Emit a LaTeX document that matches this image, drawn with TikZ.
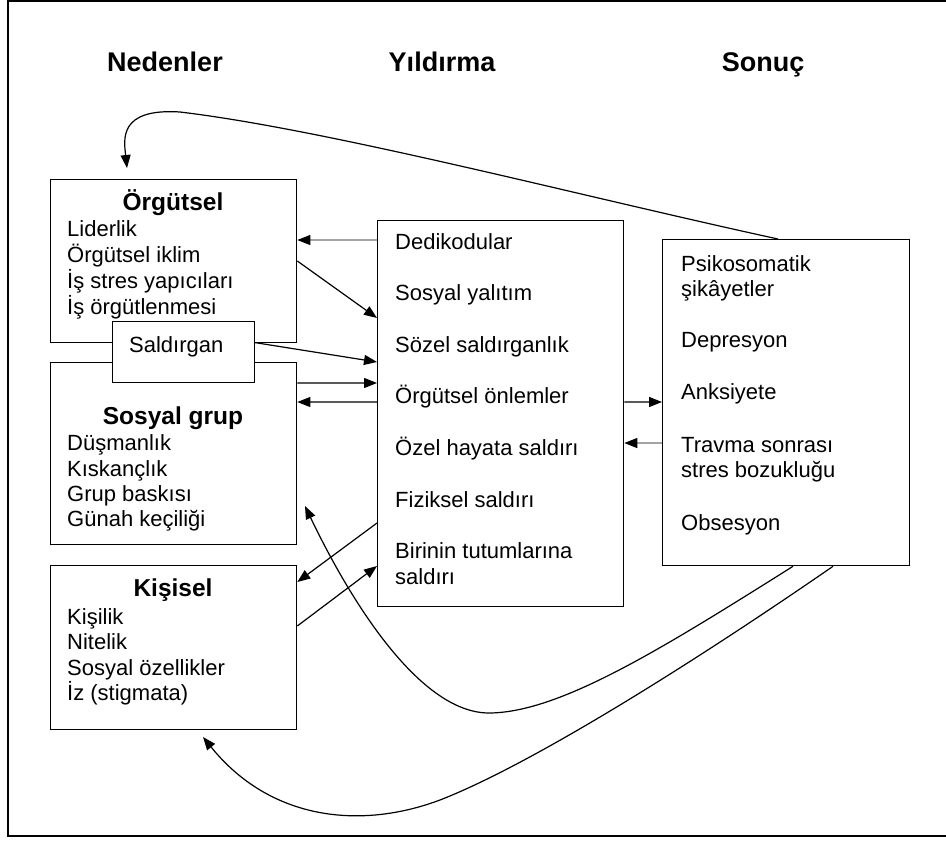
\documentclass[tikz,border=0pt]{standalone}
\usepackage{fontspec}
\setmainfont{Liberation Sans}
\usetikzlibrary{arrows.meta,calc}
\begin{document}
\begin{tikzpicture}[x=1bp,y=-1bp,
  box/.style={draw,line width=1.3bp,rectangle,inner sep=0pt,anchor=north west},
  item/.style={inner sep=0pt,anchor=base west,font=\fontsize{22bp}{26bp}\selectfont},
  title/.style={inner sep=0pt,anchor=base,font=\fontsize{24.5bp}{28bp}\selectfont\bfseries},
  head/.style={inner sep=0pt,anchor=base,font=\fontsize{27bp}{30bp}\selectfont\bfseries},
  tip/.style={-{Triangle[length=13bp,width=10bp,color=black]}},
  arr/.style={line width=1.2bp,tip},
  garr/.style={line width=1.2bp,draw=black!55,tip},
]
\useasboundingbox (0,0) rectangle (946,841);

% page frame
\draw[line width=2.5bp] (946,1) -- (8,1) -- (8,836) -- (946,836);

% column headings
\node[head] (hcause) at (165,71) {Nedenler};
\node[head] (hmob)   at (442,71) {Yıldırma};
\node[head] (hres)   at (763,71) {Sonuç};

% cause boxes
\node[box,minimum width=246bp,minimum height=163bp] (org) at (50,179) {};
\node[box,minimum width=246bp,minimum height=182bp] (sos) at (50,362) {};
\node[box,minimum width=246bp,minimum height=164bp] (kis) at (50,565) {};
\node[box,fill=white,minimum width=142bp,minimum height=61bp] (sal) at (112,321) {};

\node[title] (orgt) at (173,210.7) {Örgütsel};
\node[item] (o1) at (67,236.7) {Liderlik};
\node[item] (o2) at (67,262.7) {Örgütsel iklim};
\node[item] (o3) at (67,288.7) {İş stres yapıcıları};
\node[item] (o4) at (67,314.2) {İş örgütlenmesi};

\node[item] (salt) at (129,352) {Saldırgan};

\node[title] (sost) at (173,424.5) {Sosyal grup};
\node[item] (s1) at (67,450.5) {Düşmanlık};
\node[item] (s2) at (67,476) {Kıskançlık};
\node[item] (s3) at (67,501.7) {Grup baskısı};
\node[item] (s4) at (67,526.7) {Günah keçiliği};

\node[title] (kist) at (173,596.7) {Kişisel};
\node[item] (k1) at (67,624) {Kişilik};
\node[item] (k2) at (67,649.5) {Nitelik};
\node[item] (k3) at (67,675) {Sosyal özellikler};
\node[item] (k4) at (67,700.7) {İz (stigmata)};

% mobbing behaviours
\node[box,minimum width=246bp,minimum height=386bp] (mid) at (377,220) {};
\node[item] (m1) at (395,249) {Dedikodular};
\node[item] (m2) at (395,300.6) {Sosyal yalıtım};
\node[item] (m3) at (395,352.2) {Sözel saldırganlık};
\node[item] (m4) at (395,403.8) {Örgütsel önlemler};
\node[item] (m5) at (395,455.4) {Özel hayata saldırı};
\node[item] (m6) at (395,507) {Fiziksel saldırı};
\node[item] (m7) at (395,558.6) {Birinin tutumlarına};
\node[item] (m8) at (395,584) {saldırı};

% consequences
\node[box,minimum width=247bp,minimum height=326bp] (res) at (662,239) {};
\node[item] (r1) at (681,271) {Psikosomatik};
\node[item] (r2) at (681,296) {şikâyetler};
\node[item] (r3) at (681,347) {Depresyon};
\node[item] (r4) at (681,399) {Anksiyete};
\node[item] (r5) at (681,452) {Travma sonrası};
\node[item] (r6) at (681,477) {stres bozukluğu};
\node[item] (r7) at (681,530) {Obsesyon};

% straight connectors
\draw[garr] ([yshift=-20bp]mid.north west) -- ([yshift=-61bp]org.north east);
\draw[arr] ([yshift=-82bp]org.north east) -- ([yshift=-98bp]mid.north west);
\draw[arr] ([yshift=9.5bp]sal.east) -- ([yshift=-142bp]mid.north west);
\draw[arr] ([yshift=-21bp]sos.north east) -- ([yshift=-163bp]mid.north west);
\draw[arr] ([yshift=-182bp]mid.north west) -- ([yshift=-40bp]sos.north east);
\draw[arr] ([yshift=-182bp]mid.north east) -- ([yshift=-163bp]res.north west);
\draw[garr] ([yshift=-204bp]res.north west) -- ([yshift=-223bp]mid.north east);
\draw[arr] ([yshift=-303bp]mid.north west) -- ([yshift=-17bp]kis.north east);
\draw[arr] ([yshift=-61bp]kis.north east) -- ([yshift=-346bp]mid.north west);

% feedback curves
\coordinate (orgin) at (127,168);
\coordinate (sosin) at (305,506);
\coordinate (kisin) at (203,737);

\draw[arr] ([xshift=116bp]res.north west)
  .. controls (580,196) and (330,130) .. (180,112)
  .. controls (118,108) and (124,140) .. (orgin);
\draw[arr] ([xshift=131bp]res.south west)
  .. controls (660,650) and (560,712) .. (490,713)
  .. controls (420,714) and (350,600) .. (sosin);
\draw[arr] ([xshift=171bp]res.south west)
  .. controls (690,665) and (530,765) .. (440,800)
  .. controls (360,830) and (270,820) .. (kisin);
\end{tikzpicture}
\end{document}
